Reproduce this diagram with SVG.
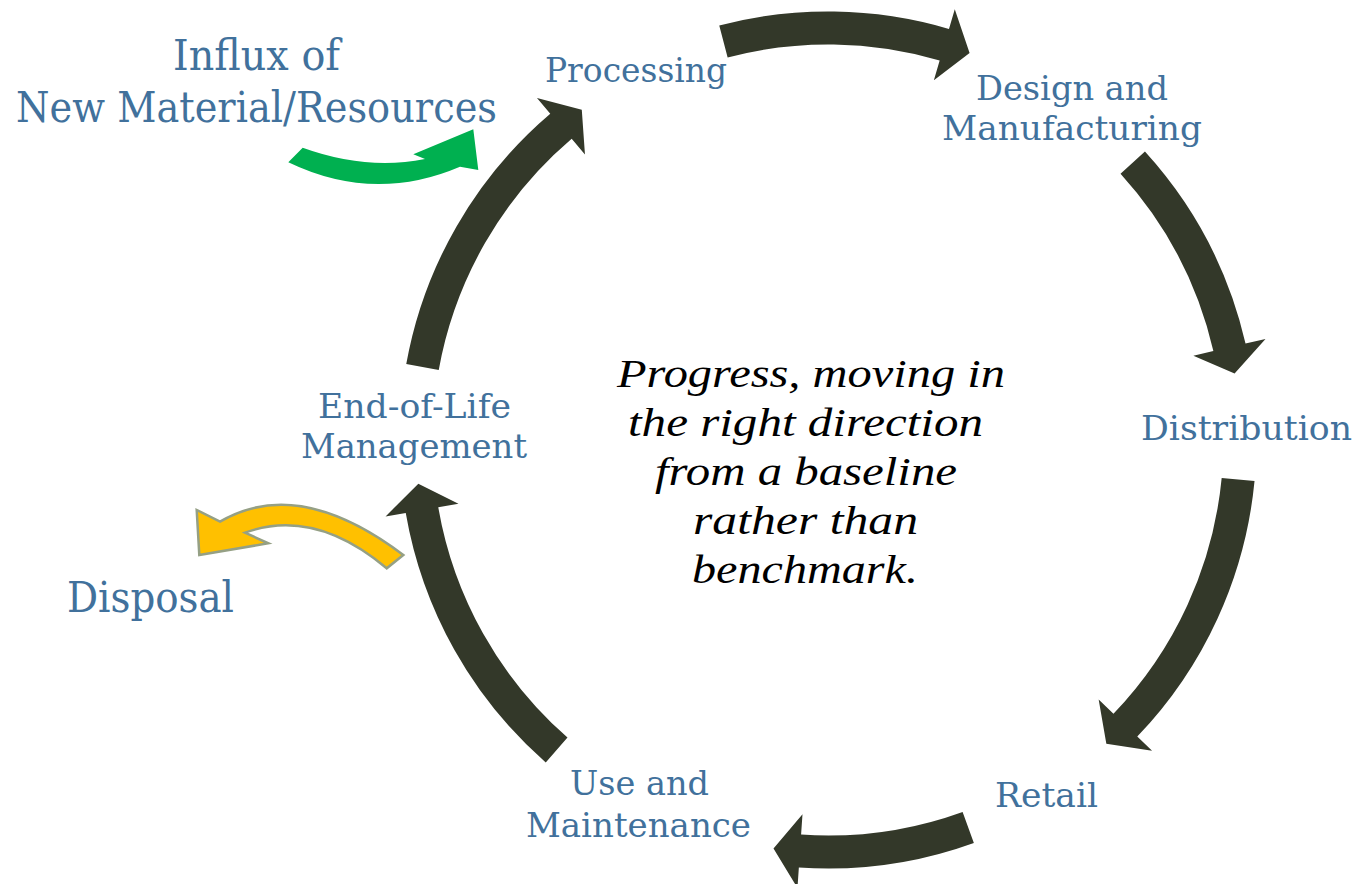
<svg xmlns="http://www.w3.org/2000/svg" width="1358" height="884" viewBox="0 0 1358 884">
<style>
.lbl{font-family:"DejaVu Serif","Liberation Serif",serif;fill:#41719C;font-size:34px;text-anchor:middle}
.big{font-size:42px}
.ctr{font-family:"Liberation Serif","DejaVu Serif",serif;font-style:italic;fill:#000;font-size:41px;text-anchor:middle}
.cyc{fill:#333829}
</style>
<rect width="1358" height="884" fill="#fff"/>
<g id="connectors">
<path class="cyc" transform="rotate(-73.6 828 440)" d="M1194.91,218.66 A428.5,428.5 0 0 1 1256.5,440 L1277,440 L1239.14,466.59 L1203,440 L1223.5,440 A395.5,395.5 0 0 0 1166.65,235.71 Z"/>
<path class="cyc" transform="rotate(-13 828 440)" d="M1201.69,230.30 A428.5,428.5 0 0 1 1256.5,440 L1277,440 L1239.14,466.59 L1203,440 L1223.5,440 A395.5,395.5 0 0 0 1172.91,246.45 Z"/>
<path class="cyc" transform="rotate(43.8 828 440)" d="M1164.28,174.42 A428.5,428.5 0 0 1 1256.5,440 L1277,440 L1239.14,466.59 L1203,440 L1223.5,440 A395.5,395.5 0 0 0 1138.38,194.87 Z"/>
<path class="cyc" transform="rotate(93.9 828 440)" d="M1220.06,267.08 A428.5,428.5 0 0 1 1256.5,440 L1277,440 L1239.14,466.59 L1203,440 L1223.5,440 A395.5,395.5 0 0 0 1189.87,280.40 Z"/>
<path class="cyc" transform="rotate(170.2 828 440)" d="M1161.01,170.34 A428.5,428.5 0 0 1 1256.5,440 L1277,440 L1239.14,466.59 L1203,440 L1223.5,440 A395.5,395.5 0 0 0 1135.36,191.10 Z"/>
<path class="cyc" transform="rotate(-130.4 828 440)" d="M1159.13,168.01 A428.5,428.5 0 0 1 1256.5,440 L1277,440 L1239.14,466.59 L1203,440 L1223.5,440 A395.5,395.5 0 0 0 1133.63,188.96 Z"/>
<path id="influx-arrow" fill="#00B050" d="M302.7,147.7 Q366.15,170.65 425,159 L413.3,154.3 L473.3,129.3 L478.3,170 L460,166.7 Q373.85,203.5 288.3,162.3 Z"/>
<path id="disposal-arrow" fill="#FFC000" stroke="#95A085" stroke-width="2.5" stroke-linejoin="miter" d="M403.3,555 Q298.35,475.65 220,521.7 L196.7,510 L199.3,555 L268.3,543.3 L245,532.7 Q314.15,507.5 386.7,568.3 Z"/>
</g>
<g id="influx"><text class="lbl big" x="256.5" y="70" textLength="167" lengthAdjust="spacingAndGlyphs">Influx of</text><text class="lbl big" x="256.5" y="122" textLength="481" lengthAdjust="spacingAndGlyphs">New Material/Resources</text></g>
<g id="processing"><text class="lbl" x="636" y="82" textLength="182" lengthAdjust="spacingAndGlyphs">Processing</text></g>
<g id="design"><text class="lbl" x="1072" y="100" textLength="192" lengthAdjust="spacingAndGlyphs">Design and</text><text class="lbl" x="1072" y="140" textLength="260" lengthAdjust="spacingAndGlyphs">Manufacturing</text></g>
<g id="distribution"><text class="lbl" x="1246.5" y="440" textLength="211" lengthAdjust="spacingAndGlyphs">Distribution</text></g>
<g id="retail"><text class="lbl" x="1046.5" y="807" textLength="103" lengthAdjust="spacingAndGlyphs">Retail</text></g>
<g id="use"><text class="lbl" x="639.5" y="795" textLength="139" lengthAdjust="spacingAndGlyphs">Use and</text><text class="lbl" x="638.5" y="837" textLength="225" lengthAdjust="spacingAndGlyphs">Maintenance</text></g>
<g id="eol"><text class="lbl" x="414.5" y="418" textLength="193" lengthAdjust="spacingAndGlyphs">End-of-Life</text><text class="lbl" x="414" y="458" textLength="226" lengthAdjust="spacingAndGlyphs">Management</text></g>
<g id="disposal"><text class="lbl big" x="150.5" y="612" textLength="167" lengthAdjust="spacingAndGlyphs">Disposal</text></g>
<g id="center-text">
<text class="ctr" x="811" y="387" textLength="388" lengthAdjust="spacingAndGlyphs">Progress, moving in</text>
<text class="ctr" x="805.5" y="436" textLength="355" lengthAdjust="spacingAndGlyphs">the right direction</text>
<text class="ctr" x="806" y="485" textLength="302" lengthAdjust="spacingAndGlyphs">from a baseline</text>
<text class="ctr" x="805.5" y="534" textLength="225" lengthAdjust="spacingAndGlyphs">rather than</text>
<text class="ctr" x="805" y="583" textLength="226" lengthAdjust="spacingAndGlyphs">benchmark.</text>
</g>
</svg>
